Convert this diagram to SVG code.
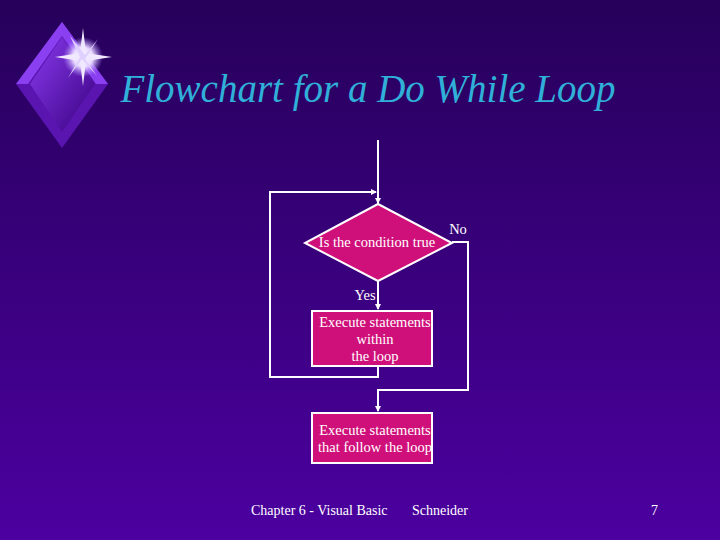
<svg xmlns="http://www.w3.org/2000/svg" width="720" height="540" viewBox="0 0 720 540">
<defs>
<linearGradient id="bg" x1="0" y1="0" x2="0" y2="1"><stop offset="0" stop-color="#26005a"/><stop offset="1" stop-color="#4c00a0"/></linearGradient>
<linearGradient id="dm" x1="0" y1="0" x2="1" y2="1"><stop offset="0" stop-color="#8a3cf0"/><stop offset="1" stop-color="#3a0080"/></linearGradient>
<radialGradient id="star"><stop offset="0" stop-color="#fff"/><stop offset="0.5" stop-color="#e8d8ff"/><stop offset="1" stop-color="#b090ff" stop-opacity="0"/></radialGradient>
<marker id="ar" markerWidth="6" markerHeight="6" refX="5" refY="3" orient="auto" markerUnits="userSpaceOnUse"><path d="M0,0 L6,3 L0,6 z" fill="#fff"/></marker>
<style>
.node{fill:#d0107a;stroke:#fff;stroke-width:2}
.t{font-family:"Liberation Serif",serif;font-size:14.5px;fill:#fff;text-anchor:middle}
.c{fill:none;stroke:#fff;stroke-width:2}
.f{font-family:"Liberation Serif",serif;font-size:14px;fill:#fff}
.title{font-family:"Liberation Serif",serif;font-style:italic;font-size:39px;fill:#30b0d8;text-anchor:middle}
</style>
</defs>
<rect width="720" height="540" fill="url(#bg)"/>
<g id="logo">
<path d="M62,22 L108,84 L62,148 L16,84 z" fill="#5a14b0"/>
<path d="M62,22 L108,84 L96,84 L62,36 L28,84 L16,84 z" fill="#8a40f0"/>
<path d="M30,84 L62,37 L95,84 L62,132 z" fill="url(#dm)"/>
<circle cx="83" cy="57" r="20" fill="url(#star)"/>
<path d="M83,28 L86,53 L112,57 L86,61 L83,86 L80,61 L55,57 L80,53 z" fill="#f0e8ff"/>
<path d="M70,36 L85,55 L98,39 L85,59 L97,76 L82,59 L68,78 L80,57 z" fill="#e0d0ff"/>
</g>
<text class="title" x="368" y="102">Flowchart for a Do While Loop</text>
<g id="connectors">
<path class="c" d="M378,140 V203" marker-end="url(#ar)"/>
<path class="c" d="M378,366 V377 H270 V192 H376" marker-end="url(#ar)"/>
<path class="c" d="M378,281 V309" marker-end="url(#ar)"/>
<path class="c" d="M452,242 H468 V390 H378 V411" marker-end="url(#ar)"/>
</g>
<g id="decision"><path class="node" d="M378,204 L452,243 L378,281 L305,243 z"/><text class="t" x="377" y="247">Is the condition true</text></g>
<text class="t" x="458" y="234">No</text>
<text class="t" x="365" y="300">Yes</text>
<g id="body"><rect class="node" x="312" y="311" width="120" height="55"/><text class="t" x="375" y="327">Execute statements</text><text class="t" x="375" y="344">within</text><text class="t" x="375" y="361">the loop</text></g>
<g id="after"><rect class="node" x="312" y="413" width="120" height="50"/><text class="t" x="375" y="435">Execute statements</text><text class="t" x="375" y="452">that follow the loop</text></g>
<text class="f" x="251" y="515">Chapter 6 - Visual Basic</text>
<text class="f" x="412" y="515">Schneider</text>
<text class="f" x="651" y="515">7</text>
</svg>
